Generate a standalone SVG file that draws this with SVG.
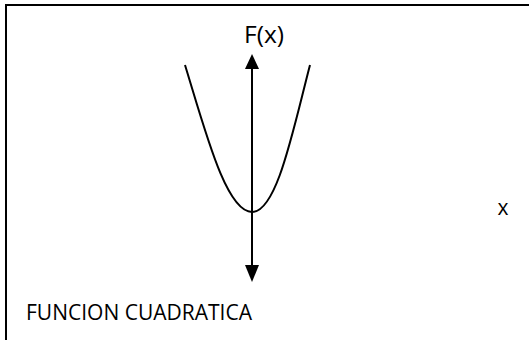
<svg xmlns="http://www.w3.org/2000/svg" width="529" height="340" viewBox="0 0 529 340">
<defs>
<style>
.t{font-family:"Open Sans","Liberation Sans",Arial,sans-serif;font-size:21px;fill:#000}
.ln{stroke:#000;stroke-width:2;fill:none}
.ah{fill:#000}
</style>
</defs>
<rect width="529" height="340" fill="#fff"/>
<g id="frame"><path d="M6,340 V5 H529" stroke="#000" stroke-width="2" fill="none"/></g>
<g id="connectors">
<line class="ln" x1="252" y1="66" x2="252" y2="266"/>
<polygon class="ah" points="252,54 245,69 259,69"/>
<polygon class="ah" points="252,282 245,265 259,265"/>
</g>
<g id="parabola"><path class="ln" d="M185,65 C205,130 226,212 252,212 C277,212 293,130 310,65"/></g>
<g id="label-fx"><text class="t" x="244" y="43" textLength="40" lengthAdjust="spacingAndGlyphs" style="font-size:23px">F(x)</text></g>
<g id="label-x"><text class="t" x="503" y="215" text-anchor="middle">x</text></g>
<g id="title"><text class="t" x="26" y="320" textLength="226" lengthAdjust="spacingAndGlyphs">FUNCION CUADRATICA</text></g>
</svg>
